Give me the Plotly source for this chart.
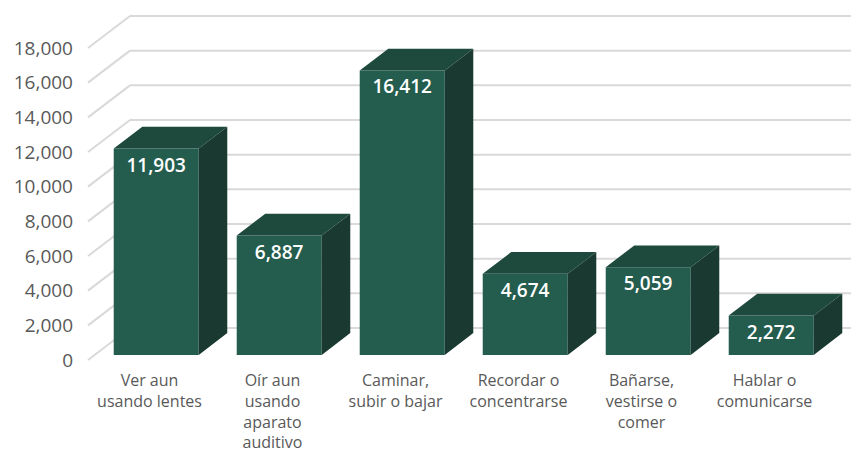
import plotly.graph_objects as go

# ---- data ----
categories = ["Ver aun<br>usando lentes", "Oír aun<br>usando<br>aparato<br>auditivo",
              "Caminar,<br>subir o bajar", "Recordar o<br>concentrarse",
              "Bañarse,<br>vestirse o<br>comer", "Hablar o<br>comunicarse"]
values = [11903, 6887, 16412, 4674, 5059, 2272]
y_ticks = [0, 2000, 4000, 6000, 8000, 10000, 12000, 14000, 16000, 18000]

# ---- geometry (oblique 3D projection) ----
PAGE_OFF = 8                  # default body margin of the html page
W, H = 859 - PAGE_OFF, 452 - PAGE_OFF
L, T, B = 74 - PAGE_OFF, 0, 83
PX_PER_CAT = 123.0
FLOOR_LEFT_PX = 88.0 - PAGE_OFF
K = 312.0 / 18000.0          # px per value unit
FLOOR0_PX = 360.0 - PAGE_OFF # pixel y of value 0 at front edge
UX = 1.0 / PX_PER_CAT        # x data units per px
UY = 1.0 / K                 # y data units per px
DEPTH_DX, DEPTH_DY = 42.0, 32.0
F0, F1 = 0.16, 0.84
BAR_W = 85.0 / PX_PER_CAT

x_range = [-0.5 - (FLOOR_LEFT_PX - L) * UX, -0.5 + (W - FLOOR_LEFT_PX) * UX]
plot_bottom = H - B
y_range = [(FLOOR0_PX - plot_bottom) * UY, (FLOOR0_PX - T) * UY]

front_dx, front_dy = F0 * DEPTH_DX * UX, F0 * DEPTH_DY * UY
bar_dx, bar_dy = (F1 - F0) * DEPTH_DX * UX, (F1 - F0) * DEPTH_DY * UY

FRONT = "#245c4e"
TOP = "#1e4a3e"
SIDE = "#1a3a31"
GRID = "#d9d9d9"

fig = go.Figure()

# gridlines: back wall + left-wall diagonal
shapes = []
for v in y_ticks:
    x0, y0 = -0.5, v
    x1, y1 = -0.5 + DEPTH_DX * UX, v + DEPTH_DY * UY
    shapes.append(dict(type="line", xref="x", yref="y", x0=x0, y0=y0, x1=x1, y1=y1,
                       line=dict(color=GRID, width=2), layer="below"))
    shapes.append(dict(type="line", xref="x", yref="y", x0=x1, y0=y1, x1=x_range[1], y1=y1,
                       line=dict(color=GRID, width=2), layer="below"))

xs = [i + front_dx for i in range(len(values))]
base = front_dy

# front faces
fig.add_trace(go.Bar(
    x=xs, y=values, base=[base] * len(values), width=BAR_W,
    marker=dict(color=FRONT, line=dict(width=0)),
    text=[f"{v:,}" for v in values], textposition="inside", insidetextanchor="end",
    textfont=dict(color="white", size=19, family="Open Sans", weight=600),
    constraintext="none", hoverinfo="skip", showlegend=False,
))

# top and side faces
tx, ty, sx, sy = [], [], [], []
for x, v in zip(xs, values):
    xl, xr = x - BAR_W / 2, x + BAR_W / 2
    top = base + v
    tx += [xl, xr, xr + bar_dx, xl + bar_dx, xl, None]
    ty += [top, top, top + bar_dy, top + bar_dy, top, None]
    sx += [xr, xr, xr + bar_dx, xr + bar_dx, xr, None]
    sy += [base, top, top + bar_dy, base + bar_dy, base, None]

fig.add_trace(go.Scatter(x=tx, y=ty, mode="lines", fill="toself", fillcolor=TOP,
                         line=dict(width=0, color=TOP), hoverinfo="skip", showlegend=False))
fig.add_trace(go.Scatter(x=sx, y=sy, mode="lines", fill="toself", fillcolor=SIDE,
                         line=dict(width=0, color=SIDE), hoverinfo="skip", showlegend=False))

fig.update_layout(
    width=W, height=H,
    margin=dict(l=L, r=0, t=T, b=B),
    paper_bgcolor="white", plot_bgcolor="white",
    shapes=shapes,
    font=dict(family="Open Sans", color="#595959"),
    xaxis=dict(range=x_range, tickvals=list(range(len(categories))), ticktext=categories,
               showgrid=False, zeroline=False, showline=False, ticks="", automargin=False,
               tickfont=dict(size=16, color="#595959")),
    yaxis=dict(range=y_range, tickvals=y_ticks, tickformat=",d", automargin=False,
               showgrid=False, zeroline=False, showline=False, ticks="",
               tickfont=dict(size=19, color="#595959")),
)

fig.write_html("out.html")
